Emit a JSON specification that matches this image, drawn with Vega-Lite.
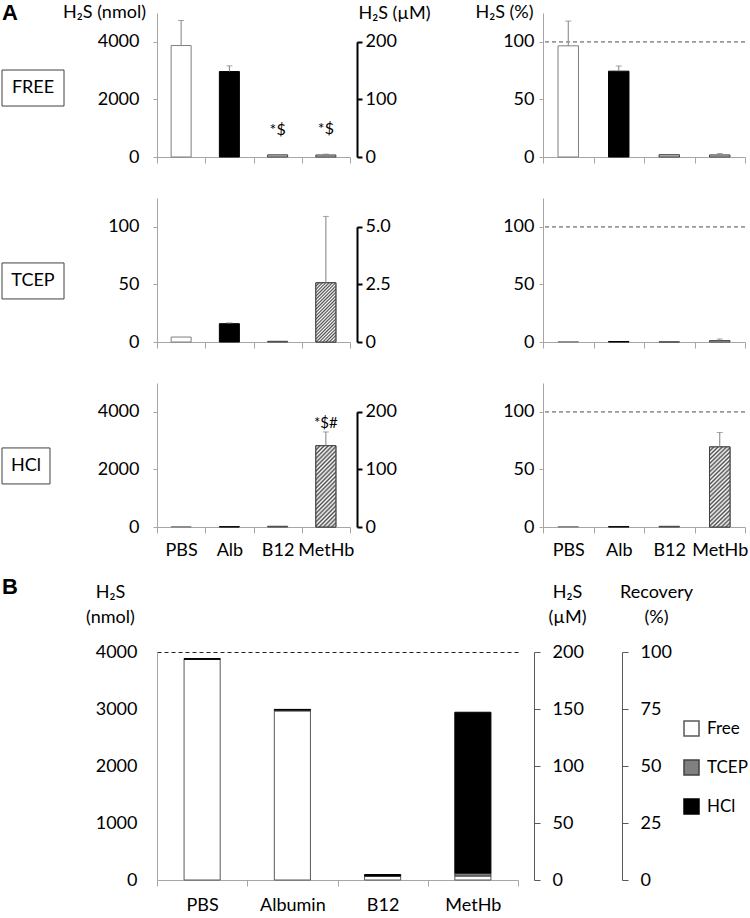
{
  "$schema": "https://vega.github.io/schema/vega-lite/v6.json",
  "padding": {"left": 1, "top": 2, "right": 0, "bottom": 0},
  "config": {
    "font": "Lato",
    "view": {"stroke": null},
    "axis": {"labelFont": "Lato", "labelFontSize": 18, "labelColor": "#000", "titleFont": "Lato", "titleFontSize": 18, "titleColor": "#000", "titleFontWeight": "normal", "grid": false},
    "text": {"font": "Lato", "color": "#000"}
  },
  "datasets": {
    "a": [
      {"assay": "FREE", "cat": "PBS", "nmol": 3870, "nmol_hi": 4740, "pct": 96.5, "pct_hi": 118, "note": ""},
      {"assay": "FREE", "cat": "Alb", "nmol": 2967, "nmol_hi": 3165, "pct": 74.5, "pct_hi": 79, "note": ""},
      {"assay": "FREE", "cat": "B12", "nmol": 75, "nmol_hi": 75, "pct": 2.0, "pct_hi": 2.0, "note": "*$"},
      {"assay": "FREE", "cat": "MetHb", "nmol": 70, "nmol_hi": 100, "pct": 1.8, "pct_hi": 3.0, "note": "*$"},
      {"assay": "TCEP", "cat": "PBS", "nmol": 4.3, "nmol_hi": 4.3, "pct": 0.2, "pct_hi": 0.2, "note": ""},
      {"assay": "TCEP", "cat": "Alb", "nmol": 15.9, "nmol_hi": 16.6, "pct": 0.4, "pct_hi": 0.4, "note": ""},
      {"assay": "TCEP", "cat": "B12", "nmol": 0.6, "nmol_hi": 0.6, "pct": 0.1, "pct_hi": 0.1, "note": ""},
      {"assay": "TCEP", "cat": "MetHb", "nmol": 51.4, "nmol_hi": 109, "pct": 1.2, "pct_hi": 2.6, "note": ""},
      {"assay": "HCl", "cat": "PBS", "nmol": 10, "nmol_hi": 10, "pct": 0.3, "pct_hi": 0.3, "note": ""},
      {"assay": "HCl", "cat": "Alb", "nmol": 10, "nmol_hi": 10, "pct": 0.3, "pct_hi": 0.3, "note": ""},
      {"assay": "HCl", "cat": "B12", "nmol": 25, "nmol_hi": 25, "pct": 0.6, "pct_hi": 0.6, "note": ""},
      {"assay": "HCl", "cat": "MetHb", "nmol": 2822, "nmol_hi": 3300, "pct": 69.5, "pct_hi": 82, "note": "*$#"}
    ],
    "b": [
      {"sample": "PBS", "fraction": "Free", "rank": 1, "nmol": 3870},
      {"sample": "PBS", "fraction": "TCEP", "rank": 2, "nmol": 4},
      {"sample": "PBS", "fraction": "HCl", "rank": 3, "nmol": 10},
      {"sample": "Albumin", "fraction": "Free", "rank": 1, "nmol": 2967},
      {"sample": "Albumin", "fraction": "TCEP", "rank": 2, "nmol": 16},
      {"sample": "Albumin", "fraction": "HCl", "rank": 3, "nmol": 10},
      {"sample": "B12", "fraction": "Free", "rank": 1, "nmol": 70},
      {"sample": "B12", "fraction": "TCEP", "rank": 2, "nmol": 1},
      {"sample": "B12", "fraction": "HCl", "rank": 3, "nmol": 25},
      {"sample": "MetHb", "fraction": "Free", "rank": 1, "nmol": 70},
      {"sample": "MetHb", "fraction": "TCEP", "rank": 2, "nmol": 51},
      {"sample": "MetHb", "fraction": "HCl", "rank": 3, "nmol": 2822}
    ]
  },
  "concat": [
    {
      "width": 62, "height": 144,
      "data": {"values": [{"label": "FREE"}]},
      "layer": [
        {"mark": {"type": "rect", "fill": "#fff", "fillOpacity": 0, "stroke": "#404040", "strokeWidth": 1},
         "encoding": {"x": {"datum": 0, "type": "quantitative", "scale": {"domain": [0, 1], "nice": false}, "axis": null}, "x2": {"datum": 1}, "y": {"datum": 0.396, "type": "quantitative", "scale": {"domain": [0, 1], "reverse": true, "nice": false}, "axis": null}, "y2": {"datum": 0.646}}},
        {"mark": {"type": "text", "fontSize": 18},
         "encoding": {"x": {"datum": 0.5, "type": "quantitative", "axis": null}, "y": {"datum": 0.521, "type": "quantitative", "axis": null}, "text": {"field": "label", "type": "nominal"}}},
        {"mark": {"type": "text", "align": "left", "baseline": "alphabetic", "fontSize": 22, "fontWeight": "bold", "font": "Liberation Sans"},
         "encoding": {"x": {"datum": 0, "type": "quantitative", "axis": null}, "y": {"datum": 0.049, "type": "quantitative", "axis": null}, "text": {"value": "A"}}}
      ]
    },
    {
      "width": 193, "height": 144,
      "data": {"name": "a"},
      "transform": [{"filter": "datum.assay == 'FREE'"}],
      "layer": [
        {"mark": {"type": "bar", "width": {"band": 0.415}, "strokeWidth": 1},
         "encoding": {
           "x": {"field": "cat", "type": "nominal", "sort": ["PBS", "Alb", "B12", "MetHb"], "scale": {"paddingInner": 0, "paddingOuter": 0}, "axis": {"title": null, "labels": false, "tickBand": "extent", "tickSize": 6, "domainColor": "#a6a6a6", "tickColor": "#a6a6a6"}},
           "y": {"field": "nmol", "type": "quantitative", "scale": {"domain": [0, 5000], "nice": false}, "axis": {"values": [0, 2000, 4000], "format": "d", "domainColor": "#a6a6a6", "tickColor": "#a6a6a6", "tickSize": 4, "labelPadding": 14, "title": "H₂S (nmol)", "titleAngle": 0, "titleAlign": "center", "titleBaseline": "middle", "titleX": -53, "titleY": -1}},
           "fill": {"field": "cat", "type": "nominal", "scale": {"domain": ["PBS", "Alb", "B12", "MetHb"], "range": ["#ffffff", "#000000", "#c0c0c0", "#c0c0c0"]}, "legend": null},
           "stroke": {"field": "cat", "type": "nominal", "scale": {"domain": ["PBS", "Alb", "B12", "MetHb"], "range": ["#7f7f7f", "#000000", "#404040", "#404040"]}, "legend": null}
         }},
        {"mark": {"type": "rule", "color": "#7f7f7f", "strokeWidth": 1}, "transform": [{"filter": "datum.nmol_hi > datum.nmol"}],
         "encoding": {"x": {"field": "cat", "type": "nominal", "sort": ["PBS", "Alb", "B12", "MetHb"], "axis": {"title": null, "labels": false, "tickBand": "extent", "tickSize": 6, "domainColor": "#a6a6a6", "tickColor": "#a6a6a6"}}, "y": {"field": "nmol", "type": "quantitative", "scale": {"domain": [0, 5000], "nice": false}, "axis": null}, "y2": {"field": "nmol_hi"}}},
        {"mark": {"type": "tick", "orient": "horizontal", "size": 6, "thickness": 1, "color": "#7f7f7f"}, "transform": [{"filter": "datum.nmol_hi > datum.nmol"}],
         "encoding": {"x": {"field": "cat", "type": "nominal", "sort": ["PBS", "Alb", "B12", "MetHb"], "axis": {"title": null, "labels": false, "tickBand": "extent", "tickSize": 6, "domainColor": "#a6a6a6", "tickColor": "#a6a6a6"}}, "y": {"field": "nmol_hi", "type": "quantitative", "scale": {"domain": [0, 5000], "nice": false}, "axis": null}}},
        {"mark": {"type": "text", "baseline": "middle", "dy": -25, "fontSize": 16}, "transform": [{"filter": "datum.note != ''"}],
         "encoding": {"x": {"field": "cat", "type": "nominal", "sort": ["PBS", "Alb", "B12", "MetHb"], "axis": {"title": null, "labels": false, "tickBand": "extent", "tickSize": 6, "domainColor": "#a6a6a6", "tickColor": "#a6a6a6"}}, "y": {"field": "nmol_hi", "type": "quantitative", "scale": {"domain": [0, 5000], "nice": false}, "axis": null}, "text": {"field": "note", "type": "nominal"}}},
        {"mark": {"type": "point", "opacity": 0},
         "encoding": {"x": {"field": "cat", "type": "nominal", "sort": ["PBS", "Alb", "B12", "MetHb"], "axis": {"title": null, "labels": false, "tickBand": "extent", "tickSize": 6, "domainColor": "#a6a6a6", "tickColor": "#a6a6a6"}},
           "y": {"field": "nmol", "type": "quantitative", "scale": {"domain": [0, 4000], "range": [144, 28.8], "nice": false}, "axis": {"orient": "right", "offset": 7, "values": [0, 2000, 4000], "labelExpr": "format(datum.value / 20, 'd')", "domainColor": "#000", "domainWidth": 2, "tickColor": "#000", "tickWidth": 2, "tickSize": 5, "labelPadding": 3, "title": "H₂S (µM)", "titleAngle": 0, "titleAlign": "center", "titleBaseline": "middle", "titleX": 37, "titleY": 0}}}}
      ],
      "resolve": {"scale": {"y": "independent"}}
    },
    {"width": 7, "height": 144, "data": {"values": [{}]}, "mark": {"type": "text", "text": ""}},
    {
      "width": 202, "height": 144,
      "data": {"name": "a"},
      "transform": [{"filter": "datum.assay == 'FREE'"}],
      "layer": [
        {"mark": {"type": "bar", "width": {"band": 0.405}, "strokeWidth": 1},
         "encoding": {
           "x": {"field": "cat", "type": "nominal", "sort": ["PBS", "Alb", "B12", "MetHb"], "scale": {"paddingInner": 0, "paddingOuter": 0}, "axis": {"title": null, "labels": false, "tickBand": "extent", "tickSize": 6, "domainColor": "#a6a6a6", "tickColor": "#a6a6a6"}},
           "y": {"field": "pct", "type": "quantitative", "scale": {"domain": [0, 125], "nice": false}, "axis": {"values": [0, 50, 100], "domainColor": "#a6a6a6", "tickColor": "#a6a6a6", "tickSize": 4, "labelPadding": 5, "title": "H₂S (%)", "titleAngle": 0, "titleAlign": "center", "titleBaseline": "middle", "titleX": -39, "titleY": -1}},
           "fill": {"field": "cat", "type": "nominal", "scale": {"domain": ["PBS", "Alb", "B12", "MetHb"], "range": ["#ffffff", "#000000", "#c0c0c0", "#c0c0c0"]}, "legend": null},
           "stroke": {"field": "cat", "type": "nominal", "scale": {"domain": ["PBS", "Alb", "B12", "MetHb"], "range": ["#7f7f7f", "#000000", "#404040", "#404040"]}, "legend": null}
         }},
        {"mark": {"type": "rule", "color": "#7f7f7f", "strokeWidth": 1}, "transform": [{"filter": "datum.pct_hi > datum.pct"}],
         "encoding": {"x": {"field": "cat", "type": "nominal", "sort": ["PBS", "Alb", "B12", "MetHb"], "axis": {"title": null, "labels": false, "tickBand": "extent", "tickSize": 6, "domainColor": "#a6a6a6", "tickColor": "#a6a6a6"}}, "y": {"field": "pct", "type": "quantitative", "scale": {"domain": [0, 125], "nice": false}, "axis": null}, "y2": {"field": "pct_hi"}}},
        {"mark": {"type": "tick", "orient": "horizontal", "size": 6, "thickness": 1, "color": "#7f7f7f"}, "transform": [{"filter": "datum.pct_hi > datum.pct"}],
         "encoding": {"x": {"field": "cat", "type": "nominal", "sort": ["PBS", "Alb", "B12", "MetHb"], "axis": {"title": null, "labels": false, "tickBand": "extent", "tickSize": 6, "domainColor": "#a6a6a6", "tickColor": "#a6a6a6"}}, "y": {"field": "pct_hi", "type": "quantitative", "scale": {"domain": [0, 125], "nice": false}, "axis": null}}},
        {"mark": {"type": "rule", "strokeDash": [4, 3], "color": "#999", "strokeWidth": 1}, "encoding": {"y": {"datum": 100, "type": "quantitative", "scale": {"domain": [0, 125], "nice": false}, "axis": null}}}
      ],
      "resolve": {"scale": {"y": "independent"}}
    },
    {
      "width": 62, "height": 144,
      "data": {"values": [{"label": "TCEP"}]},
      "layer": [
        {"mark": {"type": "rect", "fill": "#fff", "fillOpacity": 0, "stroke": "#404040", "strokeWidth": 1},
         "encoding": {"x": {"datum": 0, "type": "quantitative", "scale": {"domain": [0, 1], "nice": false}, "axis": null}, "x2": {"datum": 1}, "y": {"datum": 0.451, "type": "quantitative", "scale": {"domain": [0, 1], "reverse": true, "nice": false}, "axis": null}, "y2": {"datum": 0.701}}},
        {"mark": {"type": "text", "fontSize": 18},
         "encoding": {"x": {"datum": 0.5, "type": "quantitative", "axis": null}, "y": {"datum": 0.576, "type": "quantitative", "axis": null}, "text": {"field": "label", "type": "nominal"}}}
      ]
    },
    {
      "width": 193, "height": 144,
      "data": {"name": "a"},
      "transform": [{"filter": "datum.assay == 'TCEP'"}],
      "layer": [
        {"mark": {"type": "bar", "width": {"band": 0.415}, "strokeWidth": 1},
         "encoding": {
           "x": {"field": "cat", "type": "nominal", "sort": ["PBS", "Alb", "B12", "MetHb"], "scale": {"paddingInner": 0, "paddingOuter": 0}, "axis": {"title": null, "labels": false, "tickBand": "extent", "tickSize": 6, "domainColor": "#a6a6a6", "tickColor": "#a6a6a6"}},
           "y": {"field": "nmol", "type": "quantitative", "scale": {"domain": [0, 125], "nice": false}, "axis": {"values": [0, 50, 100], "format": "d", "domainColor": "#a6a6a6", "tickColor": "#a6a6a6", "tickSize": 4, "labelPadding": 14, "title": null}},
           "fill": {"field": "cat", "type": "nominal", "scale": {"domain": ["PBS", "Alb", "B12", "MetHb"], "range": ["#ffffff", "#000000", "#c0c0c0", "#c0c0c0"]}, "legend": null},
           "stroke": {"field": "cat", "type": "nominal", "scale": {"domain": ["PBS", "Alb", "B12", "MetHb"], "range": ["#7f7f7f", "#000000", "#404040", "#404040"]}, "legend": null}
         }},
        {"mark": {"type": "bar", "width": {"band": 0.415}, "strokeWidth": 1, "stroke": "#404040",
          "fill": {"gradient": "linear", "x1": 0, "y1": 0, "x2": 0.407, "y2": 1.201, "stops": [{"offset": 0, "color": "#4d4d4d"}, {"offset": 0.0208, "color": "#fff"}, {"offset": 0.0417, "color": "#4d4d4d"}, {"offset": 0.0625, "color": "#fff"}, {"offset": 0.0833, "color": "#4d4d4d"}, {"offset": 0.1042, "color": "#fff"}, {"offset": 0.125, "color": "#4d4d4d"}, {"offset": 0.1458, "color": "#fff"}, {"offset": 0.1667, "color": "#4d4d4d"}, {"offset": 0.1875, "color": "#fff"}, {"offset": 0.2083, "color": "#4d4d4d"}, {"offset": 0.2292, "color": "#fff"}, {"offset": 0.25, "color": "#4d4d4d"}, {"offset": 0.2708, "color": "#fff"}, {"offset": 0.2917, "color": "#4d4d4d"}, {"offset": 0.3125, "color": "#fff"}, {"offset": 0.3333, "color": "#4d4d4d"}, {"offset": 0.3542, "color": "#fff"}, {"offset": 0.375, "color": "#4d4d4d"}, {"offset": 0.3958, "color": "#fff"}, {"offset": 0.4167, "color": "#4d4d4d"}, {"offset": 0.4375, "color": "#fff"}, {"offset": 0.4583, "color": "#4d4d4d"}, {"offset": 0.4792, "color": "#fff"}, {"offset": 0.5, "color": "#4d4d4d"}, {"offset": 0.5208, "color": "#fff"}, {"offset": 0.5417, "color": "#4d4d4d"}, {"offset": 0.5625, "color": "#fff"}, {"offset": 0.5833, "color": "#4d4d4d"}, {"offset": 0.6042, "color": "#fff"}, {"offset": 0.625, "color": "#4d4d4d"}, {"offset": 0.6458, "color": "#fff"}, {"offset": 0.6667, "color": "#4d4d4d"}, {"offset": 0.6875, "color": "#fff"}, {"offset": 0.7083, "color": "#4d4d4d"}, {"offset": 0.7292, "color": "#fff"}, {"offset": 0.75, "color": "#4d4d4d"}, {"offset": 0.7708, "color": "#fff"}, {"offset": 0.7917, "color": "#4d4d4d"}, {"offset": 0.8125, "color": "#fff"}, {"offset": 0.8333, "color": "#4d4d4d"}, {"offset": 0.8542, "color": "#fff"}, {"offset": 0.875, "color": "#4d4d4d"}, {"offset": 0.8958, "color": "#fff"}, {"offset": 0.9167, "color": "#4d4d4d"}, {"offset": 0.9375, "color": "#fff"}, {"offset": 0.9583, "color": "#4d4d4d"}, {"offset": 0.9792, "color": "#fff"}, {"offset": 1, "color": "#4d4d4d"}]}},
         "transform": [{"filter": "datum.cat == 'MetHb'"}],
         "encoding": {"x": {"field": "cat", "type": "nominal", "sort": ["PBS", "Alb", "B12", "MetHb"], "axis": {"title": null, "labels": false, "tickBand": "extent", "tickSize": 6, "domainColor": "#a6a6a6", "tickColor": "#a6a6a6"}}, "y": {"field": "nmol", "type": "quantitative", "scale": {"domain": [0, 125], "nice": false}, "axis": null}}},
        {"mark": {"type": "rule", "color": "#7f7f7f", "strokeWidth": 1}, "transform": [{"filter": "datum.nmol_hi > datum.nmol"}],
         "encoding": {"x": {"field": "cat", "type": "nominal", "sort": ["PBS", "Alb", "B12", "MetHb"], "axis": {"title": null, "labels": false, "tickBand": "extent", "tickSize": 6, "domainColor": "#a6a6a6", "tickColor": "#a6a6a6"}}, "y": {"field": "nmol", "type": "quantitative", "scale": {"domain": [0, 125], "nice": false}, "axis": null}, "y2": {"field": "nmol_hi"}}},
        {"mark": {"type": "tick", "orient": "horizontal", "size": 6, "thickness": 1, "color": "#7f7f7f"}, "transform": [{"filter": "datum.nmol_hi > datum.nmol"}],
         "encoding": {"x": {"field": "cat", "type": "nominal", "sort": ["PBS", "Alb", "B12", "MetHb"], "axis": {"title": null, "labels": false, "tickBand": "extent", "tickSize": 6, "domainColor": "#a6a6a6", "tickColor": "#a6a6a6"}}, "y": {"field": "nmol_hi", "type": "quantitative", "scale": {"domain": [0, 125], "nice": false}, "axis": null}}},
        {"mark": {"type": "point", "opacity": 0},
         "encoding": {"x": {"field": "cat", "type": "nominal", "sort": ["PBS", "Alb", "B12", "MetHb"], "axis": {"title": null, "labels": false, "tickBand": "extent", "tickSize": 6, "domainColor": "#a6a6a6", "tickColor": "#a6a6a6"}},
           "y": {"field": "nmol", "type": "quantitative", "scale": {"domain": [0, 100], "range": [144, 28.8], "nice": false}, "axis": {"orient": "right", "offset": 7, "values": [0, 50, 100], "labelExpr": "datum.value == 0 ? '0' : format(datum.value / 20, '.1f')", "domainColor": "#000", "domainWidth": 2, "tickColor": "#000", "tickWidth": 2, "tickSize": 5, "labelPadding": 3, "title": null}}}}
      ],
      "resolve": {"scale": {"y": "independent"}}
    },
    {"width": 7, "height": 144, "data": {"values": [{}]}, "mark": {"type": "text", "text": ""}},
    {
      "width": 202, "height": 144,
      "data": {"name": "a"},
      "transform": [{"filter": "datum.assay == 'TCEP'"}],
      "layer": [
        {"mark": {"type": "bar", "width": {"band": 0.405}, "strokeWidth": 1},
         "encoding": {
           "x": {"field": "cat", "type": "nominal", "sort": ["PBS", "Alb", "B12", "MetHb"], "scale": {"paddingInner": 0, "paddingOuter": 0}, "axis": {"title": null, "labels": false, "tickBand": "extent", "tickSize": 6, "domainColor": "#a6a6a6", "tickColor": "#a6a6a6"}},
           "y": {"field": "pct", "type": "quantitative", "scale": {"domain": [0, 125], "nice": false}, "axis": {"values": [0, 50, 100], "domainColor": "#a6a6a6", "tickColor": "#a6a6a6", "tickSize": 4, "labelPadding": 5, "title": null}},
           "fill": {"field": "cat", "type": "nominal", "scale": {"domain": ["PBS", "Alb", "B12", "MetHb"], "range": ["#ffffff", "#000000", "#c0c0c0", "#c0c0c0"]}, "legend": null},
           "stroke": {"field": "cat", "type": "nominal", "scale": {"domain": ["PBS", "Alb", "B12", "MetHb"], "range": ["#7f7f7f", "#000000", "#404040", "#404040"]}, "legend": null}
         }},
        {"mark": {"type": "rule", "color": "#7f7f7f", "strokeWidth": 1}, "transform": [{"filter": "datum.pct_hi > datum.pct"}],
         "encoding": {"x": {"field": "cat", "type": "nominal", "sort": ["PBS", "Alb", "B12", "MetHb"], "axis": {"title": null, "labels": false, "tickBand": "extent", "tickSize": 6, "domainColor": "#a6a6a6", "tickColor": "#a6a6a6"}}, "y": {"field": "pct", "type": "quantitative", "scale": {"domain": [0, 125], "nice": false}, "axis": null}, "y2": {"field": "pct_hi"}}},
        {"mark": {"type": "tick", "orient": "horizontal", "size": 6, "thickness": 1, "color": "#7f7f7f"}, "transform": [{"filter": "datum.pct_hi > datum.pct"}],
         "encoding": {"x": {"field": "cat", "type": "nominal", "sort": ["PBS", "Alb", "B12", "MetHb"], "axis": {"title": null, "labels": false, "tickBand": "extent", "tickSize": 6, "domainColor": "#a6a6a6", "tickColor": "#a6a6a6"}}, "y": {"field": "pct_hi", "type": "quantitative", "scale": {"domain": [0, 125], "nice": false}, "axis": null}}},
        {"mark": {"type": "rule", "strokeDash": [4, 3], "color": "#999", "strokeWidth": 1}, "encoding": {"y": {"datum": 100, "type": "quantitative", "scale": {"domain": [0, 125], "nice": false}, "axis": null}}}
      ],
      "resolve": {"scale": {"y": "independent"}}
    },
    {
      "width": 62, "height": 144,
      "data": {"values": [{"label": "HCl"}]},
      "layer": [
        {"mark": {"type": "rect", "fill": "#fff", "fillOpacity": 0, "stroke": "#404040", "strokeWidth": 1},
         "encoding": {"x": {"datum": 0, "type": "quantitative", "scale": {"domain": [0, 1], "nice": false}, "axis": null}, "x2": {"datum": 0.774}, "y": {"datum": 0.451, "type": "quantitative", "scale": {"domain": [0, 1], "reverse": true, "nice": false}, "axis": null}, "y2": {"datum": 0.701}}},
        {"mark": {"type": "text", "fontSize": 18},
         "encoding": {"x": {"datum": 0.387, "type": "quantitative", "axis": null}, "y": {"datum": 0.576, "type": "quantitative", "axis": null}, "text": {"field": "label", "type": "nominal"}}}
      ]
    },
    {
      "width": 193, "height": 144,
      "data": {"name": "a"},
      "transform": [{"filter": "datum.assay == 'HCl'"}],
      "layer": [
        {"mark": {"type": "bar", "width": {"band": 0.415}, "strokeWidth": 1},
         "encoding": {
           "x": {"field": "cat", "type": "nominal", "sort": ["PBS", "Alb", "B12", "MetHb"], "scale": {"paddingInner": 0, "paddingOuter": 0}, "axis": {"title": null, "labels": true, "labelAngle": 0, "labelPadding": 8, "tickBand": "extent", "tickSize": 6, "domainColor": "#a6a6a6", "tickColor": "#a6a6a6"}},
           "y": {"field": "nmol", "type": "quantitative", "scale": {"domain": [0, 5000], "nice": false}, "axis": {"values": [0, 2000, 4000], "format": "d", "domainColor": "#a6a6a6", "tickColor": "#a6a6a6", "tickSize": 4, "labelPadding": 14, "title": null}},
           "fill": {"field": "cat", "type": "nominal", "scale": {"domain": ["PBS", "Alb", "B12", "MetHb"], "range": ["#ffffff", "#000000", "#c0c0c0", "#c0c0c0"]}, "legend": null},
           "stroke": {"field": "cat", "type": "nominal", "scale": {"domain": ["PBS", "Alb", "B12", "MetHb"], "range": ["#7f7f7f", "#000000", "#404040", "#404040"]}, "legend": null}
         }},
        {"mark": {"type": "bar", "width": {"band": 0.415}, "strokeWidth": 1, "stroke": "#404040",
          "fill": {"gradient": "linear", "x1": 0, "y1": 0, "x2": 0.294, "y2": 1.176, "stops": [{"offset": 0, "color": "#4d4d4d"}, {"offset": 0.0208, "color": "#fff"}, {"offset": 0.0417, "color": "#4d4d4d"}, {"offset": 0.0625, "color": "#fff"}, {"offset": 0.0833, "color": "#4d4d4d"}, {"offset": 0.1042, "color": "#fff"}, {"offset": 0.125, "color": "#4d4d4d"}, {"offset": 0.1458, "color": "#fff"}, {"offset": 0.1667, "color": "#4d4d4d"}, {"offset": 0.1875, "color": "#fff"}, {"offset": 0.2083, "color": "#4d4d4d"}, {"offset": 0.2292, "color": "#fff"}, {"offset": 0.25, "color": "#4d4d4d"}, {"offset": 0.2708, "color": "#fff"}, {"offset": 0.2917, "color": "#4d4d4d"}, {"offset": 0.3125, "color": "#fff"}, {"offset": 0.3333, "color": "#4d4d4d"}, {"offset": 0.3542, "color": "#fff"}, {"offset": 0.375, "color": "#4d4d4d"}, {"offset": 0.3958, "color": "#fff"}, {"offset": 0.4167, "color": "#4d4d4d"}, {"offset": 0.4375, "color": "#fff"}, {"offset": 0.4583, "color": "#4d4d4d"}, {"offset": 0.4792, "color": "#fff"}, {"offset": 0.5, "color": "#4d4d4d"}, {"offset": 0.5208, "color": "#fff"}, {"offset": 0.5417, "color": "#4d4d4d"}, {"offset": 0.5625, "color": "#fff"}, {"offset": 0.5833, "color": "#4d4d4d"}, {"offset": 0.6042, "color": "#fff"}, {"offset": 0.625, "color": "#4d4d4d"}, {"offset": 0.6458, "color": "#fff"}, {"offset": 0.6667, "color": "#4d4d4d"}, {"offset": 0.6875, "color": "#fff"}, {"offset": 0.7083, "color": "#4d4d4d"}, {"offset": 0.7292, "color": "#fff"}, {"offset": 0.75, "color": "#4d4d4d"}, {"offset": 0.7708, "color": "#fff"}, {"offset": 0.7917, "color": "#4d4d4d"}, {"offset": 0.8125, "color": "#fff"}, {"offset": 0.8333, "color": "#4d4d4d"}, {"offset": 0.8542, "color": "#fff"}, {"offset": 0.875, "color": "#4d4d4d"}, {"offset": 0.8958, "color": "#fff"}, {"offset": 0.9167, "color": "#4d4d4d"}, {"offset": 0.9375, "color": "#fff"}, {"offset": 0.9583, "color": "#4d4d4d"}, {"offset": 0.9792, "color": "#fff"}, {"offset": 1, "color": "#4d4d4d"}]}},
         "transform": [{"filter": "datum.cat == 'MetHb'"}],
         "encoding": {"x": {"field": "cat", "type": "nominal", "sort": ["PBS", "Alb", "B12", "MetHb"], "axis": {"title": null, "labels": true, "labelAngle": 0, "labelPadding": 8, "tickBand": "extent", "tickSize": 6, "domainColor": "#a6a6a6", "tickColor": "#a6a6a6"}}, "y": {"field": "nmol", "type": "quantitative", "scale": {"domain": [0, 5000], "nice": false}, "axis": null}}},
        {"mark": {"type": "rule", "color": "#7f7f7f", "strokeWidth": 1}, "transform": [{"filter": "datum.nmol_hi > datum.nmol"}],
         "encoding": {"x": {"field": "cat", "type": "nominal", "sort": ["PBS", "Alb", "B12", "MetHb"], "axis": {"title": null, "labels": true, "labelAngle": 0, "labelPadding": 8, "tickBand": "extent", "tickSize": 6, "domainColor": "#a6a6a6", "tickColor": "#a6a6a6"}}, "y": {"field": "nmol", "type": "quantitative", "scale": {"domain": [0, 5000], "nice": false}, "axis": null}, "y2": {"field": "nmol_hi"}}},
        {"mark": {"type": "tick", "orient": "horizontal", "size": 6, "thickness": 1, "color": "#7f7f7f"}, "transform": [{"filter": "datum.nmol_hi > datum.nmol"}],
         "encoding": {"x": {"field": "cat", "type": "nominal", "sort": ["PBS", "Alb", "B12", "MetHb"], "axis": {"title": null, "labels": true, "labelAngle": 0, "labelPadding": 8, "tickBand": "extent", "tickSize": 6, "domainColor": "#a6a6a6", "tickColor": "#a6a6a6"}}, "y": {"field": "nmol_hi", "type": "quantitative", "scale": {"domain": [0, 5000], "nice": false}, "axis": null}}},
        {"mark": {"type": "text", "baseline": "middle", "dy": -9, "fontSize": 15}, "transform": [{"filter": "datum.note != ''"}],
         "encoding": {"x": {"field": "cat", "type": "nominal", "sort": ["PBS", "Alb", "B12", "MetHb"], "axis": {"title": null, "labels": true, "labelAngle": 0, "labelPadding": 8, "tickBand": "extent", "tickSize": 6, "domainColor": "#a6a6a6", "tickColor": "#a6a6a6"}}, "y": {"field": "nmol_hi", "type": "quantitative", "scale": {"domain": [0, 5000], "nice": false}, "axis": null}, "text": {"field": "note", "type": "nominal"}}},
        {"mark": {"type": "point", "opacity": 0},
         "encoding": {"x": {"field": "cat", "type": "nominal", "sort": ["PBS", "Alb", "B12", "MetHb"], "axis": {"title": null, "labels": true, "labelAngle": 0, "labelPadding": 8, "tickBand": "extent", "tickSize": 6, "domainColor": "#a6a6a6", "tickColor": "#a6a6a6"}},
           "y": {"field": "nmol", "type": "quantitative", "scale": {"domain": [0, 4000], "range": [144, 28.8], "nice": false}, "axis": {"orient": "right", "offset": 7, "values": [0, 2000, 4000], "labelExpr": "format(datum.value / 20, 'd')", "domainColor": "#000", "domainWidth": 2, "tickColor": "#000", "tickWidth": 2, "tickSize": 5, "labelPadding": 3, "title": null}}}}
      ],
      "resolve": {"scale": {"y": "independent"}}
    },
    {"width": 7, "height": 144, "data": {"values": [{}]}, "mark": {"type": "text", "text": ""}},
    {
      "width": 202, "height": 144,
      "data": {"name": "a"},
      "transform": [{"filter": "datum.assay == 'HCl'"}],
      "layer": [
        {"mark": {"type": "bar", "width": {"band": 0.405}, "strokeWidth": 1},
         "encoding": {
           "x": {"field": "cat", "type": "nominal", "sort": ["PBS", "Alb", "B12", "MetHb"], "scale": {"paddingInner": 0, "paddingOuter": 0}, "axis": {"title": null, "labels": true, "labelAngle": 0, "labelPadding": 8, "tickBand": "extent", "tickSize": 6, "domainColor": "#a6a6a6", "tickColor": "#a6a6a6"}},
           "y": {"field": "pct", "type": "quantitative", "scale": {"domain": [0, 125], "nice": false}, "axis": {"values": [0, 50, 100], "domainColor": "#a6a6a6", "tickColor": "#a6a6a6", "tickSize": 4, "labelPadding": 5, "title": null}},
           "fill": {"field": "cat", "type": "nominal", "scale": {"domain": ["PBS", "Alb", "B12", "MetHb"], "range": ["#ffffff", "#000000", "#c0c0c0", "#c0c0c0"]}, "legend": null},
           "stroke": {"field": "cat", "type": "nominal", "scale": {"domain": ["PBS", "Alb", "B12", "MetHb"], "range": ["#7f7f7f", "#000000", "#404040", "#404040"]}, "legend": null}
         }},
        {"mark": {"type": "bar", "width": {"band": 0.405}, "strokeWidth": 1, "stroke": "#404040",
          "fill": {"gradient": "linear", "x1": 0, "y1": 0, "x2": 0.294, "y2": 1.176, "stops": [{"offset": 0, "color": "#4d4d4d"}, {"offset": 0.0208, "color": "#fff"}, {"offset": 0.0417, "color": "#4d4d4d"}, {"offset": 0.0625, "color": "#fff"}, {"offset": 0.0833, "color": "#4d4d4d"}, {"offset": 0.1042, "color": "#fff"}, {"offset": 0.125, "color": "#4d4d4d"}, {"offset": 0.1458, "color": "#fff"}, {"offset": 0.1667, "color": "#4d4d4d"}, {"offset": 0.1875, "color": "#fff"}, {"offset": 0.2083, "color": "#4d4d4d"}, {"offset": 0.2292, "color": "#fff"}, {"offset": 0.25, "color": "#4d4d4d"}, {"offset": 0.2708, "color": "#fff"}, {"offset": 0.2917, "color": "#4d4d4d"}, {"offset": 0.3125, "color": "#fff"}, {"offset": 0.3333, "color": "#4d4d4d"}, {"offset": 0.3542, "color": "#fff"}, {"offset": 0.375, "color": "#4d4d4d"}, {"offset": 0.3958, "color": "#fff"}, {"offset": 0.4167, "color": "#4d4d4d"}, {"offset": 0.4375, "color": "#fff"}, {"offset": 0.4583, "color": "#4d4d4d"}, {"offset": 0.4792, "color": "#fff"}, {"offset": 0.5, "color": "#4d4d4d"}, {"offset": 0.5208, "color": "#fff"}, {"offset": 0.5417, "color": "#4d4d4d"}, {"offset": 0.5625, "color": "#fff"}, {"offset": 0.5833, "color": "#4d4d4d"}, {"offset": 0.6042, "color": "#fff"}, {"offset": 0.625, "color": "#4d4d4d"}, {"offset": 0.6458, "color": "#fff"}, {"offset": 0.6667, "color": "#4d4d4d"}, {"offset": 0.6875, "color": "#fff"}, {"offset": 0.7083, "color": "#4d4d4d"}, {"offset": 0.7292, "color": "#fff"}, {"offset": 0.75, "color": "#4d4d4d"}, {"offset": 0.7708, "color": "#fff"}, {"offset": 0.7917, "color": "#4d4d4d"}, {"offset": 0.8125, "color": "#fff"}, {"offset": 0.8333, "color": "#4d4d4d"}, {"offset": 0.8542, "color": "#fff"}, {"offset": 0.875, "color": "#4d4d4d"}, {"offset": 0.8958, "color": "#fff"}, {"offset": 0.9167, "color": "#4d4d4d"}, {"offset": 0.9375, "color": "#fff"}, {"offset": 0.9583, "color": "#4d4d4d"}, {"offset": 0.9792, "color": "#fff"}, {"offset": 1, "color": "#4d4d4d"}]}},
         "transform": [{"filter": "datum.cat == 'MetHb'"}],
         "encoding": {"x": {"field": "cat", "type": "nominal", "sort": ["PBS", "Alb", "B12", "MetHb"], "axis": {"title": null, "labels": true, "labelAngle": 0, "labelPadding": 8, "tickBand": "extent", "tickSize": 6, "domainColor": "#a6a6a6", "tickColor": "#a6a6a6"}}, "y": {"field": "pct", "type": "quantitative", "scale": {"domain": [0, 125], "nice": false}, "axis": null}}},
        {"mark": {"type": "rule", "color": "#7f7f7f", "strokeWidth": 1}, "transform": [{"filter": "datum.pct_hi > datum.pct"}],
         "encoding": {"x": {"field": "cat", "type": "nominal", "sort": ["PBS", "Alb", "B12", "MetHb"], "axis": {"title": null, "labels": true, "labelAngle": 0, "labelPadding": 8, "tickBand": "extent", "tickSize": 6, "domainColor": "#a6a6a6", "tickColor": "#a6a6a6"}}, "y": {"field": "pct", "type": "quantitative", "scale": {"domain": [0, 125], "nice": false}, "axis": null}, "y2": {"field": "pct_hi"}}},
        {"mark": {"type": "tick", "orient": "horizontal", "size": 6, "thickness": 1, "color": "#7f7f7f"}, "transform": [{"filter": "datum.pct_hi > datum.pct"}],
         "encoding": {"x": {"field": "cat", "type": "nominal", "sort": ["PBS", "Alb", "B12", "MetHb"], "axis": {"title": null, "labels": true, "labelAngle": 0, "labelPadding": 8, "tickBand": "extent", "tickSize": 6, "domainColor": "#a6a6a6", "tickColor": "#a6a6a6"}}, "y": {"field": "pct_hi", "type": "quantitative", "scale": {"domain": [0, 125], "nice": false}, "axis": null}}},
        {"mark": {"type": "rule", "strokeDash": [4, 3], "color": "#999", "strokeWidth": 1}, "encoding": {"y": {"datum": 100, "type": "quantitative", "scale": {"domain": [0, 125], "nice": false}, "axis": null}}}
      ],
      "resolve": {"scale": {"y": "independent"}}
    },
    {
      "width": 62, "height": 43,
      "data": {"values": [{"label": "B"}]},
      "mark": {"type": "text", "align": "left", "baseline": "middle", "fontSize": 22, "fontWeight": "bold", "font": "Liberation Sans"},
      "encoding": {"x": {"datum": 0, "type": "quantitative", "scale": {"domain": [0, 1], "nice": false}, "axis": null}, "y": {"datum": 0.44, "type": "quantitative", "scale": {"domain": [0, 1], "reverse": true, "nice": false}, "axis": null}, "text": {"field": "label", "type": "nominal"}}
    },
    {"width": 193, "height": 43, "data": {"values": [{}]}, "mark": {"type": "text", "text": ""}},
    {"width": 7, "height": 43, "data": {"values": [{}]}, "mark": {"type": "text", "text": ""}},
    {"width": 202, "height": 43, "data": {"values": [{}]}, "mark": {"type": "text", "text": ""}},
    {"width": 62, "height": 228, "data": {"values": [{}]}, "mark": {"type": "text", "text": ""}},
    {
      "width": 193, "height": 228,
      "data": {"name": "b"},
      "layer": [
        {"mark": {"type": "bar", "width": {"band": 0.4}, "strokeWidth": 1},
         "encoding": {
           "x": {"field": "sample", "type": "nominal", "sort": ["PBS", "Albumin", "B12", "MetHb"], "scale": {"paddingInner": 0, "paddingOuter": 0, "range": [0, 361]}, "axis": {"title": null, "labelAngle": 0, "labelPadding": 10, "labelFontSize": 18, "tickBand": "extent", "tickSize": 6, "domainColor": "#a6a6a6", "tickColor": "#a6a6a6"}},
           "y": {"field": "nmol", "type": "quantitative", "stack": "zero", "scale": {"domain": [0, 4000], "nice": false}, "axis": {"values": [0, 1000, 2000, 3000, 4000], "format": "d", "domainColor": "#a6a6a6", "tickSize": 0, "labelPadding": 20, "labelFontSize": 18, "grid": true, "gridColor": "#222", "gridDash": [4, 3], "gridWidth": 1, "gridOpacity": {"condition": {"test": "datum.value === 4000", "value": 1}, "value": 0}, "title": ["H₂S", "(nmol)"], "titleFontSize": 18, "titleLineHeight": 25, "titleAngle": 0, "titleAlign": "center", "titleBaseline": "top", "titleX": -47, "titleY": -69}},
           "fill": {"field": "fraction", "type": "nominal", "scale": {"domain": ["Free", "TCEP", "HCl"], "range": ["#ffffff", "#808080", "#000000"]}, "legend": {"orient": "none", "legendX": 526, "legendY": 68, "title": null, "symbolType": "square", "symbolSize": 225, "symbolStrokeWidth": 1.5, "labelFontSize": 17, "labelOffset": 7, "rowPadding": 18, "labelColor": "#000"}},
           "stroke": {"field": "fraction", "type": "nominal", "scale": {"domain": ["Free", "TCEP", "HCl"], "range": ["#595959", "#404040", "#000000"]}},
           "order": {"field": "rank", "type": "quantitative"}
         }},
        {"mark": {"type": "point", "opacity": 0},
         "encoding": {"x": {"field": "sample", "type": "nominal", "sort": ["PBS", "Albumin", "B12", "MetHb"], "axis": {"title": null, "labelAngle": 0, "labelPadding": 10, "labelFontSize": 18, "tickBand": "extent", "tickSize": 6, "domainColor": "#a6a6a6", "tickColor": "#a6a6a6"}}, "y": {"field": "nmol", "type": "quantitative", "scale": {"domain": [0, 4000], "nice": false}, "axis": {"orient": "right", "offset": 184, "values": [0, 1000, 2000, 3000, 4000], "labelExpr": "format(datum.value / 20, 'd')", "domainColor": "#595959", "tickColor": "#595959", "tickSize": 6, "labelPadding": 12, "labelFontSize": 18, "title": ["H₂S", "(µM)"], "titleFontSize": 18, "titleLineHeight": 25, "titleAngle": 0, "titleAlign": "center", "titleBaseline": "top", "titleX": 33, "titleY": -69}}}},
        {"mark": {"type": "point", "opacity": 0},
         "encoding": {"x": {"field": "sample", "type": "nominal", "sort": ["PBS", "Albumin", "B12", "MetHb"], "axis": {"title": null, "labelAngle": 0, "labelPadding": 10, "labelFontSize": 18, "tickBand": "extent", "tickSize": 6, "domainColor": "#a6a6a6", "tickColor": "#a6a6a6"}}, "y": {"field": "nmol", "type": "quantitative", "scale": {"domain": [0, 4000], "nice": false}, "axis": {"orient": "right", "offset": 272, "values": [0, 1000, 2000, 3000, 4000], "labelExpr": "format(datum.value / 40, 'd')", "domainColor": "#595959", "tickColor": "#595959", "tickSize": 6, "labelPadding": 12, "labelFontSize": 18, "title": ["Recovery", "(%)"], "titleFontSize": 18, "titleLineHeight": 25, "titleAngle": 0, "titleAlign": "center", "titleBaseline": "top", "titleX": 34, "titleY": -69}}}}
      ],
      "resolve": {"scale": {"y": "independent"}}
    },
    {"width": 1, "height": 1, "data": {"values": [{}]}, "mark": {"type": "text", "text": ""}},
    {"width": 1, "height": 1, "data": {"values": [{}]}, "mark": {"type": "text", "text": ""}}
  ],
  "columns": 4,
  "align": "none",
  "bounds": "flush",
  "spacing": {"row": 41, "column": 93},
  "resolve": {"scale": {"fill": "independent", "stroke": "independent"}}
}
